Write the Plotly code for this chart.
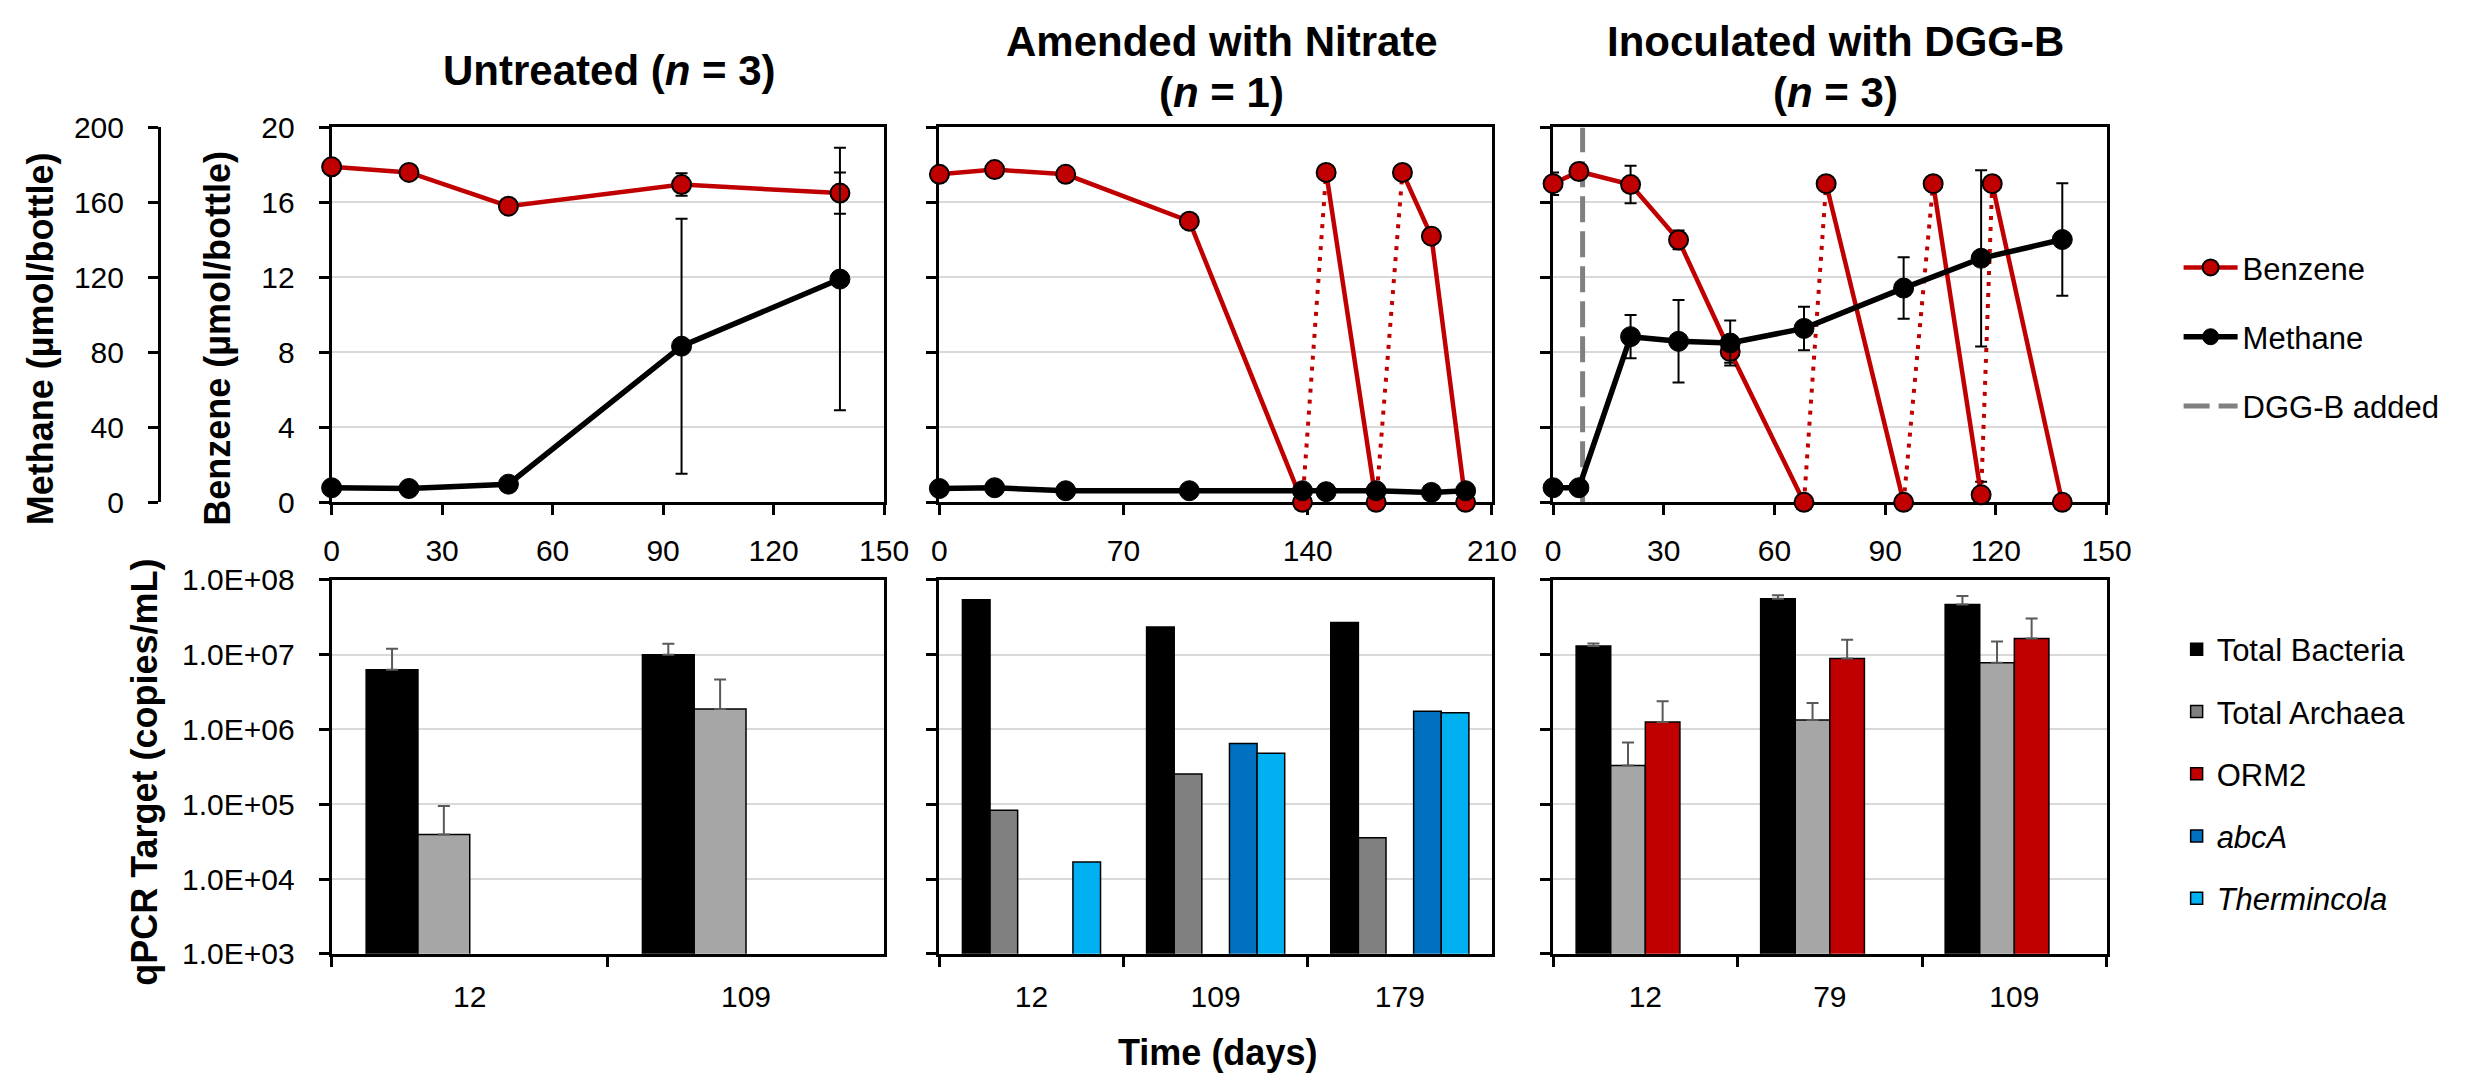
import plotly.graph_objects as go

FONT = "Liberation Sans, Arial, sans-serif"
W, H = 2470, 1089

# ---------------- top row data (benzene µmol/bottle, methane µmol/bottle) ----------------
untreated_days = [0, 21, 48, 95, 138]
untreated_benzene = [17.9, 17.6, 15.8, 16.95, 16.5]
untreated_benzene_err = [0.0, 0.0, 0.0, 0.6, 1.1]
untreated_methane = [7.8, 7.4, 9.7, 83.3, 119.1]
untreated_methane_err = [0.0, 0.0, 3.0, 68.0, 70.0]

nitrate_days = [0, 21, 48, 95, 138, 147, 166, 176, 187, 200]
nitrate_benzene = [17.5, 17.75, 17.5, 15.0, 0.0, 17.6, 0.0, 17.6, 14.2, 0.0]
nitrate_benzene_err = [0, 0, 0, 0, 0, 0, 0, 0, 0, 0]
nitrate_respikes = [(138, 147), (166, 176)]
nitrate_methane_days = [0, 21, 48, 95, 138, 147, 166, 187, 200]
nitrate_methane = [7.4, 7.8, 6.2, 6.2, 6.2, 5.7, 6.2, 5.3, 6.2]
nitrate_methane_err = [0, 0, 0, 0, 0, 0, 0, 0, 0]

dggb_days = [0, 7, 21, 34, 48, 68, 74, 95, 103, 116, 119, 138]
dggb_benzene = [17.0, 17.65, 16.95, 14.0, 8.05, 0.0, 17.0, 0.0, 17.0, 0.4, 17.0, 0.0]
dggb_benzene_err = [0.6, 0, 1.0, 0.5, 0.6, 0, 0, 0, 0, 0.7, 0, 0]
dggb_respikes = [(68, 74), (95, 103), (116, 119)]
dggb_methane_days = [0, 7, 21, 34, 48, 68, 95, 116, 138]
dggb_methane = [7.8, 7.8, 88.4, 85.9, 85.0, 92.8, 114.3, 130.2, 140.2]
dggb_methane_err = [0, 0, 11.5, 22, 12, 11.6, 16.4, 47, 30]
dggb_added_day = 8

# ---------------- bottom row data (qPCR copies/mL) ----------------
untreated_cats = ["12", "109"]
untreated_bacteria = [6.3e6, 1.0e7]
untreated_bacteria_err = [5.7e6, 4.0e6]
untreated_archaea = [3.95e4, 1.87e6]
untreated_archaea_err = [5.5e4, 2.8e6]
untreated_orm2 = [None, None]
untreated_abca = [None, None]

nitrate_cats = ["12", "109", "179"]
nitrate_bacteria = [5.4e7, 2.34e7, 2.7e7]
nitrate_archaea = [8.3e4, 2.53e5, 3.57e4]
nitrate_orm2 = [None, None, None]
nitrate_abca = [None, 6.5e5, 1.75e6]
nitrate_thermincola = [1.69e4, 4.8e5, 1.67e6]

dggb_cats = ["12", "79", "109"]
dggb_bacteria = [1.31e7, 5.6e7, 4.7e7]
dggb_bacteria_err = [1.0e6, 6.5e6, 1.4e7]
dggb_archaea = [3.3e5, 1.34e6, 7.8e6]
dggb_archaea_err = [3.4e5, 9.2e5, 7.2e6]
dggb_orm2 = [1.26e6, 8.85e6, 1.64e7]
dggb_orm2_err = [1.13e6, 7.0e6, 1.4e7]
dggb_abca = [None, None, None]

qpcr_tickvals = [1e3, 1e4, 1e5, 1e6, 1e7, 1e8]
qpcr_ticktext = ["1.0E+03", "1.0E+04", "1.0E+05", "1.0E+06", "1.0E+07", "1.0E+08"]

RED = "#C00000"
GRAY_DARK = "#808080"
GRAY_LIGHT = "#A6A6A6"
BLUE = "#0070C0"
CYAN = "#00B0F0"

fig = go.Figure()


def solid_segments(days, vals, errs, respikes):
    starts = {b for a, b in respikes}
    xs, ys, es = [], [], []
    for d, v, e in zip(days, vals, errs):
        if d in starts:
            xs.append(None); ys.append(None); es.append(None)
        xs.append(d); ys.append(v); es.append(e)
    return xs, ys, es


def add_top_panel(xa, ya, ya_m, days, benz, benz_err, respikes, mdays, meth, meth_err, show_legend):
    bx, by, be = solid_segments(days, benz, benz_err, respikes)
    lookup = dict(zip(days, benz))
    for a, b in respikes:
        fig.add_trace(go.Scatter(
            x=[a, b], y=[lookup[a], lookup[b]], xaxis=xa, yaxis=ya, mode="lines",
            line=dict(color=RED, width=4, dash="4px,7px"), showlegend=False,
            hoverinfo="skip", cliponaxis=False))
    fig.add_trace(go.Scatter(
        x=bx, y=by, xaxis=xa, yaxis=ya, mode="lines+markers", name="Benzene",
        line=dict(color=RED, width=4.5),
        marker=dict(color=RED, size=19, line=dict(color="black", width=2)),
        error_y=dict(type="data", array=be, color="black", thickness=2, width=6),
        showlegend=show_legend, legend="legend", legendgroup="benzene", legendrank=1,
        cliponaxis=False, connectgaps=False))
    fig.add_trace(go.Scatter(
        x=mdays, y=meth, xaxis=xa, yaxis=ya_m, mode="lines+markers", name="Methane",
        line=dict(color="black", width=5.5),
        marker=dict(color="black", size=20, line=dict(color="black", width=1)),
        error_y=dict(type="data", array=meth_err, color="black", thickness=2, width=6),
        showlegend=show_legend, legend="legend", legendgroup="methane", legendrank=2,
        cliponaxis=False))


# DGG-B added line (drawn first so it sits behind)
fig.add_trace(go.Scatter(
    x=[dggb_added_day, dggb_added_day], y=[0, 20], xaxis="x3", yaxis="y3", mode="lines",
    name="DGG-B added", line=dict(color=GRAY_DARK, width=5, dash="26px,9px"),
    legend="legend", legendgroup="dggb", legendrank=3, hoverinfo="skip"))

add_top_panel("x", "y", "y7", untreated_days, untreated_benzene, untreated_benzene_err, [],
              untreated_days, untreated_methane, untreated_methane_err, True)
add_top_panel("x2", "y2", "y8", nitrate_days, nitrate_benzene, nitrate_benzene_err, nitrate_respikes,
              nitrate_methane_days, nitrate_methane, nitrate_methane_err, False)
add_top_panel("x3", "y3", "y9", dggb_days, dggb_benzene, dggb_benzene_err, dggb_respikes,
              dggb_methane_days, dggb_methane, dggb_methane_err, False)


def bar(xa, ya, cats, vals, color, name, rank, err=None, legend=False):
    kw = {}
    if err is not None:
        kw["error_y"] = dict(type="data", array=err, arrayminus=[0] * len(err), symmetric=False,
                             color="#595959", thickness=2, width=6)
    fig.add_trace(go.Bar(
        x=cats, y=vals, xaxis=xa, yaxis=ya, name=name,
        marker=dict(color=color, line=dict(color="black", width=1.5)),
        showlegend=legend, legend="legend2", legendgroup=name, legendrank=rank, **kw))


# Untreated
bar("x4", "y4", untreated_cats, untreated_bacteria, "black", "Total Bacteria", 1, untreated_bacteria_err)
bar("x4", "y4", untreated_cats, untreated_archaea, GRAY_LIGHT, "Total Archaea", 2, untreated_archaea_err)
bar("x4", "y4", untreated_cats, untreated_orm2, RED, "ORM2", 3)
bar("x4", "y4", untreated_cats, untreated_abca, BLUE, "<i>abcA</i>", 4)
# Nitrate
bar("x5", "y5", nitrate_cats, nitrate_bacteria, "black", "Total Bacteria", 1)
bar("x5", "y5", nitrate_cats, nitrate_archaea, GRAY_DARK, "Total Archaea", 2, legend=True)
bar("x5", "y5", nitrate_cats, nitrate_orm2, RED, "ORM2", 3)
bar("x5", "y5", nitrate_cats, nitrate_abca, BLUE, "<i>abcA</i>", 4, legend=True)
bar("x5", "y5", nitrate_cats, nitrate_thermincola, CYAN, "<i>Thermincola</i>", 5, legend=True)
# DGG-B
bar("x6", "y6", dggb_cats, dggb_bacteria, "black", "Total Bacteria", 1, dggb_bacteria_err, legend=True)
bar("x6", "y6", dggb_cats, dggb_archaea, GRAY_LIGHT, "Total Archaea", 2, dggb_archaea_err)
bar("x6", "y6", dggb_cats, dggb_orm2, RED, "ORM2", 3, dggb_orm2_err, legend=True)
bar("x6", "y6", dggb_cats, dggb_abca, BLUE, "<i>abcA</i>", 4)

# ---------------- layout ----------------
def px_x(p):
    return p / W


def px_y(p):
    return 1 - p / H


cols = [(328, 888), (944, 1504), (1566, 2127)]
top_dom = [px_y(501), px_y(114)]
bot_dom = [px_y(967), px_y(581)]

tickfont = dict(family=FONT, size=30, color="black")
axis_common = dict(showline=True, linecolor="black", linewidth=3, mirror=True,
                   ticks="outside", ticklen=10, tickwidth=3, tickcolor="black",
                   zeroline=False, tickfont=tickfont)

layout = dict(
    width=W, height=H, autosize=False, margin=dict(l=0, r=0, t=0, b=0),
    paper_bgcolor="white", plot_bgcolor="white", barmode="group", bargap=0.25, bargroupgap=0,
    font=dict(family=FONT, color="black"),
    legend=dict(x=px_x(2200), xanchor="left", y=px_y(231), yanchor="top",
                font=dict(family=FONT, size=31, color="black"), tracegroupgap=26,
                itemwidth=54, bgcolor="rgba(0,0,0,0)", traceorder="grouped"),
    legend2=dict(x=px_x(2198), xanchor="left", y=px_y(625), yanchor="top",
                 font=dict(family=FONT, size=31, color="black"), tracegroupgap=19,
                 itemwidth=30, bgcolor="rgba(0,0,0,0)", traceorder="grouped"),
)

top_xranges = [(0, 150, 30), (0, 210, 70), (0, 150, 30)]
for i, ((l, r), (x0, x1, dt)) in enumerate(zip(cols, top_xranges)):
    n = i + 1
    xs = "xaxis" if n == 1 else f"xaxis{n}"
    ys = "yaxis" if n == 1 else f"yaxis{n}"
    layout[xs] = dict(domain=[px_x(l), px_x(r)], anchor="y" if n == 1 else f"y{n}",
                      range=[x0, x1], tick0=0, dtick=dt, showgrid=False,
                      ticklabelstandoff=10, layer="below traces", **axis_common)
    layout[ys] = dict(domain=top_dom, anchor="x" if n == 1 else f"x{n}",
                      range=[0, 20], tick0=0, dtick=4, showgrid=True, gridcolor="#D9D9D9", gridwidth=2,
                      showticklabels=(n == 1), ticklabelstandoff=18, layer="below traces", **axis_common)

layout["yaxis7"] = dict(overlaying="y", anchor="free", position=px_x(153), side="left",
                        range=[0, 200], tick0=0, dtick=40, showgrid=False, zeroline=False,
                        showline=True, linecolor="black", linewidth=3, ticks="outside",
                        ticklen=10, tickwidth=3, tickcolor="black", tickfont=tickfont,
                        ticklabelstandoff=18)
layout["yaxis8"] = dict(overlaying="y2", range=[0, 200], visible=False)
layout["yaxis9"] = dict(overlaying="y3", range=[0, 200], visible=False)

for i, (l, r) in enumerate(cols):
    n = i + 4
    layout[f"xaxis{n}"] = dict(domain=[px_x(l), px_x(r)], anchor=f"y{n}", type="category",
                               tickson="boundaries", showgrid=False, ticklabelstandoff=14,
                               **axis_common)
    layout[f"yaxis{n}"] = dict(domain=bot_dom, anchor=f"x{n}", type="log", range=[3, 8],
                               tickvals=qpcr_tickvals, ticktext=qpcr_ticktext,
                               showgrid=True, gridcolor="#D9D9D9", gridwidth=2,
                               showticklabels=(n == 4), ticklabelstandoff=18, **axis_common)

title_font = dict(family=FONT, size=42, color="black")
axis_title_font = dict(family=FONT, size=36, color="black")
annotations = [
    dict(text="<b>Untreated (<i>n</i> = 3)</b>", x=px_x(610), y=px_y(55), font=title_font),
    dict(text="<b>Amended with Nitrate</b>", x=px_x(1230), y=px_y(25), font=title_font),
    dict(text="<b>(<i>n</i> = 1)</b>", x=px_x(1230), y=px_y(78), font=title_font),
    dict(text="<b>Inoculated with DGG-B</b>", x=px_x(1852), y=px_y(25), font=title_font),
    dict(text="<b>(<i>n</i> = 3)</b>", x=px_x(1852), y=px_y(78), font=title_font),
    dict(text="<b>Methane (µmol/bottle)</b>", x=px_x(33), y=px_y(332), textangle=-90, font=axis_title_font),
    dict(text="<b>Benzene (µmol/bottle)</b>", x=px_x(212), y=px_y(332), textangle=-90, font=axis_title_font),
    dict(text="<b>qPCR Target (copies/mL)</b>", x=px_x(139), y=px_y(780), textangle=-90, font=axis_title_font),
    dict(text="<b>Time (days)</b>", x=px_x(1226), y=px_y(1069), font=axis_title_font),
]
for a in annotations:
    a.update(xref="paper", yref="paper", showarrow=False, xanchor="center", yanchor="middle")
layout["annotations"] = annotations

fig.update_layout(**layout)
fig.write_html("out.html")
